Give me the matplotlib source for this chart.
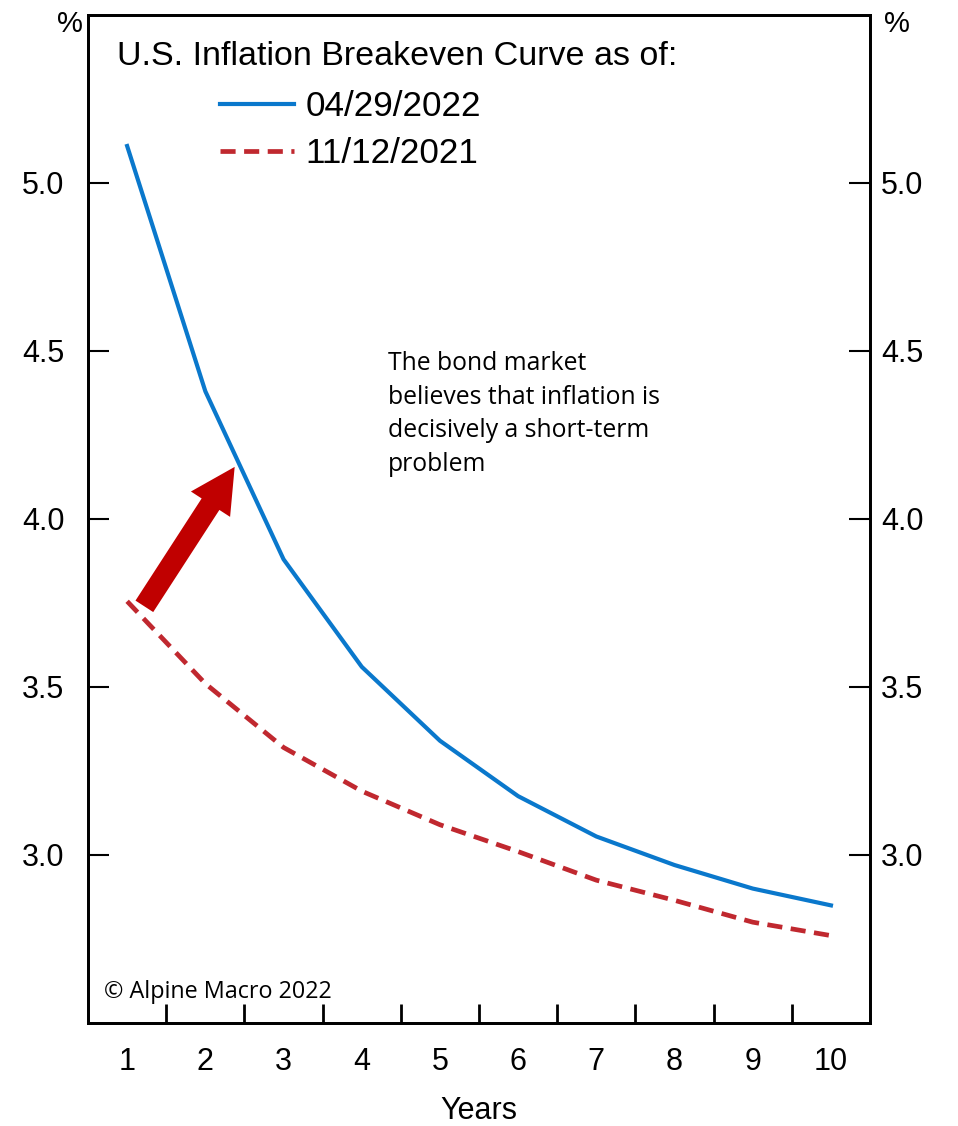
import matplotlib.pyplot as plt
from matplotlib.ticker import FixedLocator

plt.rcParams['font.family'] = ['Liberation Sans', 'DejaVu Sans']

# Breakeven inflation by maturity, in %
years = [1, 2, 3, 4, 5, 6, 7, 8, 9, 10]
be_apr_2022 = [5.11, 4.38, 3.88, 3.56, 3.34, 3.175, 3.055, 2.97, 2.90, 2.85]
be_nov_2021 = [3.755, 3.51, 3.32, 3.19, 3.09, 3.01, 2.925, 2.865, 2.80, 2.76]
labels = ['04/29/2022', '11/12/2021']
y_ticks = [3.0, 3.5, 4.0, 4.5, 5.0]

fig = plt.figure(figsize=(9.58, 11.26), dpi=100)
ax = fig.add_axes([0.0919, 0.0915, 0.8163, 0.8952])

ax.plot(years, be_apr_2022, color='#0A78CC', lw=3.0, label=labels[0])
ax.plot(years, be_nov_2021, color='#C0282F', lw=3.4, linestyle=(0, (3.2, 1.8)), label=labels[1])

ax.set_xlim(0.5, 10.5)
ax.set_ylim(2.5, 5.5)

# category-style axis: labels on the years, tick marks between them
ax.set_xticks(years)
ax.set_xticklabels([str(y) for y in years])
ax.xaxis.set_minor_locator(FixedLocator([y + 0.5 for y in years[:-1]]))
ax.tick_params(axis='x', which='major', length=0, pad=17, labelsize=22)
ax.tick_params(axis='x', which='minor', direction='in', length=14, width=2)

ax.set_yticks(y_ticks)
ax.set_yticklabels([f'{v:.1f}' for v in y_ticks])
ax.tick_params(axis='y', which='major', direction='in', length=15, width=1.5,
               labelsize=22, pad=17)

# right-hand scale mirrors the left one
ax2 = ax.twinx()
ax2.set_ylim(ax.get_ylim())
ax2.set_yticks(y_ticks)
ax2.set_yticklabels([f'{v:.1f}' for v in y_ticks])
ax2.tick_params(axis='y', which='major', direction='in', length=15, width=1.5,
                labelsize=22, pad=8)

for a in (ax, ax2):
    for s in a.spines.values():
        s.set_linewidth(2)

ax.set_xlabel('Years', fontsize=22, labelpad=14)

ax.text(-0.023, 0.991, '%', transform=ax.transAxes, fontsize=21, ha='center', va='center')
ax.text(1.0345, 0.991, '%', transform=ax.transAxes, fontsize=21, ha='center', va='center')

ax.text(0.037, 0.959, 'U.S. Inflation Breakeven Curve as of:', transform=ax.transAxes,
        fontsize=24.5, ha='left', va='center')
leg = ax.legend(loc='upper left', bbox_to_anchor=(0.128, 0.957), frameon=False,
                fontsize=25.3, handlelength=2.1, handletextpad=0.33, labelspacing=0.4)

ax.text(4.34, 4.50, 'The bond market\nbelieves that inflation is\ndecisively a short-term\nproblem',
        fontsize=17.8, family='Open Sans', ha='left', va='top', linespacing=1.45)

ax.text(0.02, 0.031, '\u00a9 Alpine Macro 2022', transform=ax.transAxes,
        fontsize=16.8, family='Open Sans', ha='left', va='center')

ax.annotate('', xy=(2.375, 4.155), xytext=(1.22, 3.74),
            arrowprops=dict(arrowstyle='simple,head_width=2.1,tail_width=0.95,head_length=2.0',
                            color='#C00000', lw=0, mutation_scale=16,
                            shrinkA=0, shrinkB=0))

fig.savefig('out.png', dpi=100)
